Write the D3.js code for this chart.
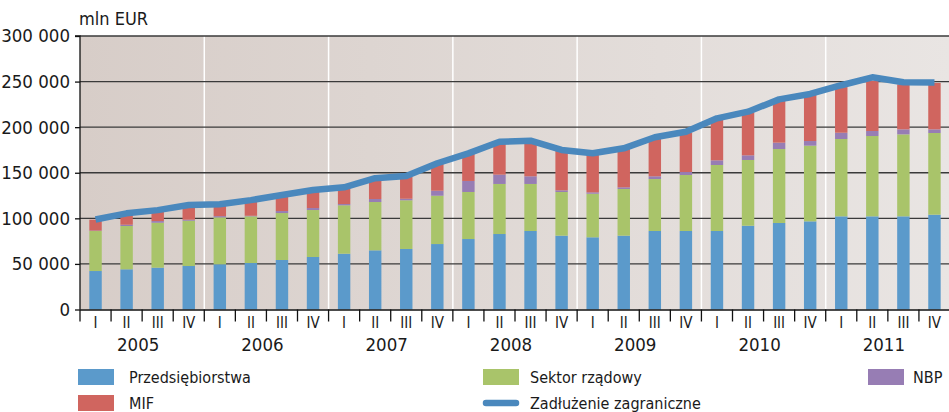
<!DOCTYPE html>
<html>
<head>
<meta charset="utf-8">
<script src="https://cdn.jsdelivr.net/npm/d3@7"></script>
<style>
  html, body { margin: 0; padding: 0; background: #ffffff; }
  svg { display: block; }
  text { font-family: "Liberation Sans Narrow", "Arial Narrow", "DejaVu Sans Condensed", sans-serif; fill: #1a1a1a; }
</style>
</head>
<body>
<svg id="chart" width="949" height="412"></svg>
<script>
// ---- DATA (mln EUR) ----
const years = ["2005", "2006", "2007", "2008", "2009", "2010", "2011"];
const quarterNames = ["I", "II", "III", "IV"];
const quarters = years.flatMap(yr => quarterNames.map(q => yr + "-" + q));

const przedsiebiorstwa = [42200, 44100, 45900, 47700, 49600, 51000, 54300, 57600, 61200, 64900, 66400, 71800,
  77300, 82800, 86100, 81000, 79200, 81000, 86100, 86100, 86100, 91900, 94900, 96700, 102200, 102200, 102200, 104000];
const sektorRzadowy = [43900, 47500, 49300, 49700, 51500, 51200, 51500, 51500, 53100, 53000, 53400, 53000,
  51600, 54900, 51600, 47900, 47800, 51200, 57000, 61400, 72400, 72100, 81100, 83000, 84800, 88100, 89900, 89600];
const nbp = [500, 1400, 1800, 1100, 1300, 600, 2200, 2200, 1400, 3300, 1700, 5500,
  12100, 10200, 8400, 1800, 1500, 1800, 3000, 3300, 5100, 5100, 7000, 5100, 6900, 5500, 5500, 4000];
const mif = [11900, 11500, 11000, 15000, 12100, 16200, 16500, 18700, 17300, 21800, 24000, 29200,
  29500, 35100, 37900, 43300, 42000, 42000, 41900, 43200, 45400, 46900, 46500, 50700, 50100, 55200, 49400, 50900];
const zadluzenie = [98700, 105500, 109000, 114600, 115500, 120000, 125600, 131000, 134000, 144000, 146400, 160400,
  171300, 184000, 185200, 175000, 171300, 176800, 188900, 195000, 209700, 217000, 230500, 236400, 246000, 254700, 249200, 249000];
const yTicks = [0, 50000, 100000, 150000, 200000, 250000, 300000];

const seriesKeys = ["Przedsiębiorstwa", "Sektor rządowy", "NBP", "MIF"];
const seriesValues = [przedsiebiorstwa, sektorRzadowy, nbp, mif];
const colors = { "Przedsiębiorstwa": "#5b9acb", "Sektor rządowy": "#a9c46a", "NBP": "#977db4", "MIF": "#d0655f" };
const lineColor = "#4a88bd";

(function () {
// ---- LAYOUT ----
const svg = d3.select("#chart");
const pLeft = 80, pRight = 950, pTop = 36, pBottom = 309.5;

const x = d3.scaleBand().domain(quarters).range([pLeft, pRight]).paddingInner(0.6).paddingOuter(0.3);
const y = d3.scaleLinear().domain([0, 300000]).range([pBottom, pTop]);

// background gradient
const defs = svg.append("defs");
const grad = defs.append("linearGradient").attr("id", "bg").attr("x1", "0").attr("x2", "1").attr("y1", "0").attr("y2", "0");
grad.append("stop").attr("offset", "0").attr("stop-color", "#d7cdc8");
grad.append("stop").attr("offset", "1").attr("stop-color", "#e9e5e3");
svg.append("rect").attr("x", pLeft).attr("y", pTop).attr("width", pRight - pLeft).attr("height", pBottom - pTop).attr("fill", "url(#bg)");

// year separators
const step = x.step();
const gap = (step - x.bandwidth()) / 2;
const boundary = q => x(q) - gap;
svg.append("g").selectAll("line").data(years.slice(1)).join("line")
  .attr("x1", d => boundary(d + "-I")).attr("x2", d => boundary(d + "-I"))
  .attr("y1", pTop).attr("y2", pBottom)
  .attr("stroke", "#ffffff").attr("stroke-width", 1.5);

// gridlines
svg.append("g").selectAll("line").data(yTicks.slice(1)).join("line")
  .attr("x1", pLeft).attr("x2", pRight)
  .attr("y1", d => y(d)).attr("y2", d => y(d))
  .attr("stroke", "#3a3a3a").attr("stroke-width", 1.3);

// stacked bars
const table = quarters.map((q, i) => {
  const o = { q };
  seriesKeys.forEach((k, j) => o[k] = seriesValues[j][i]);
  return o;
});
const stacked = d3.stack().keys(seriesKeys)(table);
svg.append("g").selectAll("g").data(stacked).join("g")
  .attr("fill", d => colors[d.key])
  .selectAll("rect").data(d => d).join("rect")
  .attr("x", d => x(d.data.q))
  .attr("width", x.bandwidth())
  .attr("y", d => y(d[1]))
  .attr("height", d => y(d[0]) - y(d[1]));

// line
const line = d3.line().x((d, i) => x(quarters[i]) + x.bandwidth() / 2).y(d => y(d));
svg.append("path").datum(zadluzenie)
  .attr("d", line).attr("fill", "none").attr("stroke", lineColor)
  .attr("stroke-width", 6.5).attr("stroke-linejoin", "round").attr("stroke-linecap", "butt");

// y axis
const fmt = v => d3.format(",")(v).replace(/,/g, " ");
const yAxis = d3.axisLeft(y).tickValues(yTicks).tickFormat(fmt).tickSize(5).tickPadding(5);
const gy = svg.append("g").attr("transform", `translate(${pLeft},0)`).call(yAxis);
gy.select(".domain").attr("stroke", "#111").attr("stroke-width", 1.3).attr("d", `M-5,${pTop}H0V${pBottom}`);
gy.selectAll(".tick line").attr("stroke", "#111").attr("stroke-width", 1.3);
gy.selectAll(".tick text").attr("font-size", 18.5).attr("fill", "#1a1a1a")
  .style("font-family", '"Liberation Sans Narrow", "Arial Narrow", "DejaVu Sans Condensed", sans-serif');

svg.append("text").attr("x", 79).attr("y", 25).attr("font-size", 18).text("mln EUR");

// x axis
svg.append("line").attr("x1", pLeft).attr("x2", pRight).attr("y1", pBottom + 0.5).attr("y2", pBottom + 0.5)
  .attr("stroke", "#111").attr("stroke-width", 1.3);
const bounds = quarters.map(q => boundary(q));
svg.append("g").selectAll("line").data(bounds).join("line")
  .attr("x1", d => d).attr("x2", d => d).attr("y1", pBottom).attr("y2", pBottom + 12)
  .attr("stroke", "#111").attr("stroke-width", 1.3);
svg.append("g").selectAll("text").data(quarters).join("text")
  .attr("x", d => x(d) + x.bandwidth() / 2).attr("y", 328)
  .attr("text-anchor", "middle").attr("font-size", 15)
  .text(d => d.split("-")[1]);
svg.append("g").selectAll("text").data(years).join("text")
  .attr("x", d => (boundary(d + "-I") + boundary(d + "-IV") + step) / 2 - 4).attr("y", 351)
  .attr("text-anchor", "middle").attr("font-size", 18.5)
  .text(d => d);

// legend
const legendItems = [
  { label: "Przedsiębiorstwa", type: "rect", color: colors["Przedsiębiorstwa"], x: 78, y: 377, tx: 129 },
  { label: "Sektor rządowy", type: "rect", color: colors["Sektor rządowy"], x: 483, y: 377, tx: 530 },
  { label: "NBP", type: "rect", color: colors["NBP"], x: 868, y: 377, tx: 913 },
  { label: "MIF", type: "rect", color: colors["MIF"], x: 78, y: 403, tx: 129 },
  { label: "Zadłużenie zagraniczne", type: "line", color: lineColor, x: 483, y: 403, tx: 530 }
];
const lg = svg.append("g").selectAll("g").data(legendItems).join("g");
lg.filter(d => d.type === "rect").append("rect")
  .attr("x", d => d.x).attr("y", d => d.y - 8).attr("width", 36).attr("height", 16).attr("fill", d => d.color);
lg.filter(d => d.type === "line").append("line")
  .attr("x1", d => d.x + 3).attr("x2", d => d.x + 33).attr("y1", d => d.y).attr("y2", d => d.y)
  .attr("stroke", d => d.color).attr("stroke-width", 6.5).attr("stroke-linecap", "round");
lg.append("text").attr("x", d => d.tx).attr("y", d => d.y + 5.5)
  .attr("font-size", 16).text(d => d.label);
})();
</script>
</body>
</html>
